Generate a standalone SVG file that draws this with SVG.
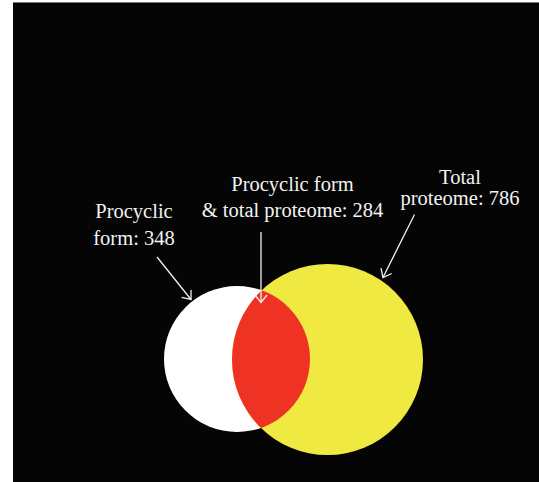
<svg xmlns="http://www.w3.org/2000/svg" width="539" height="482" viewBox="0 0 539 482">
<style>
.lbl{font-family:"Liberation Serif","Times New Roman",serif;font-size:20.5px;fill:#f2f2f2;text-anchor:middle}
.conn{stroke:#f2f2f2;stroke-width:1.3;fill:none}
</style>
<defs>
<marker id="ah" markerUnits="userSpaceOnUse" markerWidth="20" markerHeight="20" refX="0" refY="0" viewBox="-10 -10 20 20" orient="auto" overflow="visible">
<path d="M-7.5,-6 L0,0 L-7.5,6" fill="none" stroke="#f2f2f2" stroke-width="1.3"/>
</marker>
</defs>
<rect x="0" y="0" width="539" height="482" fill="#ffffff"/>
<rect x="13" y="2" width="526" height="480" fill="#050505"/>
<line x1="13" y1="2.5" x2="539" y2="2.5" stroke="#777" stroke-width="1"/>
<g id="venn">
<circle id="procyclic" cx="237" cy="359" r="73" fill="#ffffff"/>
<circle id="total" cx="327.5" cy="359.5" r="95.5" fill="#efe942"/>
<clipPath id="cw"><circle cx="237" cy="359" r="73"/></clipPath>
<circle id="overlap" cx="327.5" cy="359.5" r="95.5" fill="#ee3224" clip-path="url(#cw)"/>
</g>
<g id="label-procyclic">
<text class="lbl" x="134" y="218">Procyclic</text>
<text class="lbl" x="134" y="244.5">form: 348</text>
</g>
<g id="label-overlap">
<text class="lbl" x="292.5" y="191">Procyclic form</text>
<text class="lbl" x="292.5" y="217">&amp; total proteome: 284</text>
</g>
<g id="label-total">
<text class="lbl" x="460" y="184">Total</text>
<text class="lbl" x="460" y="205">proteome: 786</text>
</g>
<g id="connectors">
<line class="conn" x1="157" y1="257" x2="191" y2="299.5" marker-end="url(#ah)"/>
<line class="conn" x1="261" y1="232" x2="261" y2="302.5" marker-end="url(#ah)"/>
<line class="conn" x1="414.5" y1="214.5" x2="383" y2="277.5" marker-end="url(#ah)"/>
</g>
</svg>
